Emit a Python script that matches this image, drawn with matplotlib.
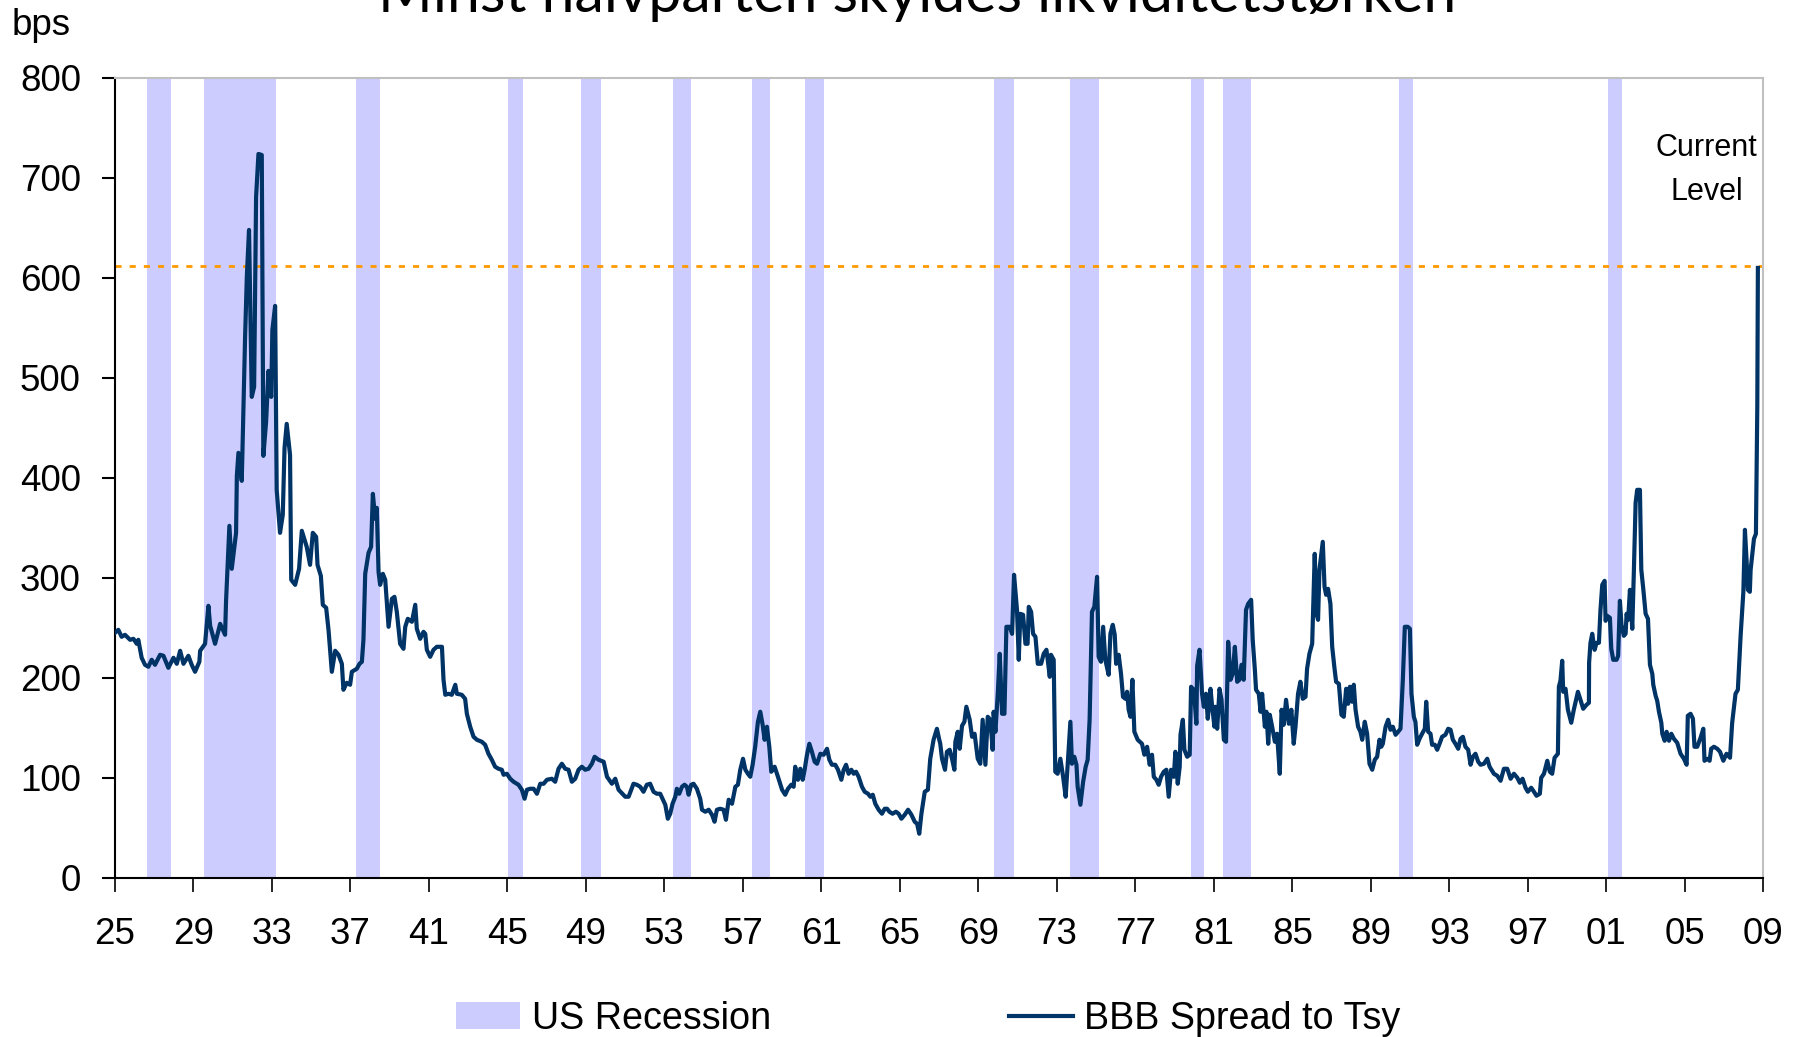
import numpy as np
import matplotlib
matplotlib.use("Agg")
import matplotlib.pyplot as plt
from matplotlib.patches import Patch
from matplotlib.lines import Line2D

# =========================
# DATA
# =========================

title = "Minst halvparten skyldes likviditetstørken"

# BBB spread to Treasuries, bps (decimal years)
dates = [
    # 1925-1938
    1925.01, 1925.18, 1925.35, 1925.52, 1925.78, 1925.95, 1926.12, 1926.20, 1926.37, 1926.54,
    1926.71, 1926.88, 1927.05, 1927.31, 1927.48, 1927.73, 1927.99, 1928.16, 1928.33, 1928.50,
    1928.75, 1928.92, 1929.09, 1929.31, 1929.35, 1929.60, 1929.77, 1929.86, 1930.11, 1930.37,
    1930.62, 1930.67, 1930.84, 1930.96, 1931.18, 1931.22, 1931.30, 1931.47, 1931.64, 1931.73,
    1931.84, 1931.98, 1932.10, 1932.20, 1932.32, 1932.49, 1932.57, 1932.71, 1932.83, 1932.97,
    1933.03, 1933.17, 1933.25, 1933.42, 1933.56, 1933.65, 1933.76, 1933.93, 1933.99, 1934.19,
    1934.39, 1934.53, 1934.78, 1934.95, 1935.09, 1935.26, 1935.33, 1935.50, 1935.60, 1935.77,
    1935.89, 1936.06, 1936.23, 1936.40, 1936.57, 1936.65, 1936.82, 1936.99, 1937.08, 1937.33,
    1937.47, 1937.59, 1937.67, 1937.76, 1937.93, 1938.06, 1938.15, 1938.27, 1938.35, 1938.44,
    1938.52, 1938.66,
    # 1938-1953
    1938.78, 1938.95, 1939.12, 1939.25, 1939.37, 1939.54, 1939.71, 1939.80, 1939.93, 1940.14,
    1940.31, 1940.39, 1940.56, 1940.73, 1940.82, 1940.90, 1941.07, 1941.24, 1941.41, 1941.67,
    1941.75, 1941.84, 1942.00, 1942.17, 1942.35, 1942.43, 1942.68, 1942.85, 1942.94, 1943.11,
    1943.28, 1943.45, 1943.70, 1943.87, 1944.04, 1944.21, 1944.38, 1944.55, 1944.72, 1944.81,
    1944.98, 1945.15, 1945.32, 1945.57, 1945.74, 1945.88, 1946.00, 1946.17, 1946.34, 1946.51,
    1946.68, 1946.85, 1947.02, 1947.27, 1947.44, 1947.61, 1947.78, 1947.95, 1948.12, 1948.29,
    1948.46, 1948.63, 1948.80, 1948.97, 1949.14, 1949.31, 1949.45, 1949.65, 1949.91, 1950.08,
    1950.33, 1950.50, 1950.67, 1951.01, 1951.18, 1951.43, 1951.60, 1951.77, 1951.94, 1952.11,
    1952.28, 1952.45, 1952.62, 1952.79,
    # 1953-1967
    1953.05, 1953.18, 1953.30, 1953.42, 1953.56, 1953.64, 1953.76, 1953.90, 1954.03, 1954.15,
    1954.24, 1954.37, 1954.49, 1954.66, 1954.83, 1954.92, 1955.09, 1955.26, 1955.43, 1955.56,
    1955.68, 1955.85, 1956.02, 1956.14, 1956.28, 1956.45, 1956.62, 1956.75, 1956.87, 1957.01,
    1957.13, 1957.26, 1957.38, 1957.50, 1957.63, 1957.77, 1957.89, 1958.01, 1958.11, 1958.23,
    1958.35, 1958.45, 1958.62, 1958.79, 1959.00, 1959.16, 1959.30, 1959.47, 1959.59, 1959.67,
    1959.81, 1959.93, 1960.05, 1960.15, 1960.27, 1960.39, 1960.52, 1960.66, 1960.78, 1960.95,
    1961.12, 1961.29, 1961.41, 1961.54, 1961.71, 1961.85, 1962.02, 1962.14, 1962.26, 1962.39,
    1962.53, 1962.65, 1962.77, 1962.90, 1963.07, 1963.21, 1963.38, 1963.50, 1963.62, 1963.75,
    1963.92, 1964.09, 1964.23, 1964.35, 1964.47, 1964.63, 1964.80, 1964.94, 1965.08, 1965.25,
    1965.42, 1965.59, 1965.76, 1965.88, 1965.99, 1966.10, 1966.27, 1966.43, 1966.55, 1966.72,
    1966.89, 1967.01,
    # 1967-1981
    1967.06, 1967.15, 1967.30, 1967.40, 1967.54, 1967.66, 1967.78, 1967.83, 1967.95, 1968.05,
    1968.17, 1968.29, 1968.39, 1968.56, 1968.68, 1968.81, 1968.97, 1969.10, 1969.22, 1969.36,
    1969.48, 1969.61, 1969.73, 1969.78, 1969.87, 1969.99, 1970.09, 1970.21, 1970.33, 1970.43,
    1970.60, 1970.72, 1970.82, 1970.97, 1971.06, 1971.14, 1971.28, 1971.40, 1971.51, 1971.57,
    1971.69, 1971.79, 1971.91, 1972.03, 1972.20, 1972.33, 1972.47, 1972.53, 1972.64, 1972.70,
    1972.84, 1972.92, 1973.04, 1973.18, 1973.32, 1973.45, 1973.57, 1973.69, 1973.77, 1973.89,
    1974.00, 1974.06, 1974.20, 1974.34, 1974.47, 1974.57, 1974.67, 1974.79, 1974.91, 1975.05,
    1975.13, 1975.25, 1975.36, 1975.47, 1975.64, 1975.73, 1975.85, 1975.95, 1976.02, 1976.15,
    1976.27, 1976.37, 1976.49, 1976.58, 1976.66, 1976.75, 1976.85, 1976.95, 1977.12, 1977.34,
    1977.46, 1977.60, 1977.73, 1977.85, 1977.94, 1978.07, 1978.19, 1978.31, 1978.45, 1978.58,
    1978.70, 1978.82, 1978.96, 1979.04, 1979.16, 1979.26, 1979.30, 1979.42, 1979.50, 1979.64,
    1979.77, 1979.84, 1979.98, 1980.11, 1980.15, 1980.27, 1980.40, 1980.49, 1980.60, 1980.69,
    1980.83, 1980.91, 1981.03,
    # 1981-1995
    1981.08, 1981.17, 1981.29, 1981.39, 1981.51, 1981.62, 1981.73, 1981.85, 1981.96, 1982.07,
    1982.19, 1982.30, 1982.41, 1982.52, 1982.64, 1982.75, 1982.90, 1982.98, 1983.09, 1983.15,
    1983.29, 1983.38, 1983.46, 1983.60, 1983.68, 1983.77, 1983.85, 1983.97, 1984.11, 1984.22,
    1984.36, 1984.45, 1984.56, 1984.68, 1984.82, 1984.95, 1985.07, 1985.16, 1985.29, 1985.41,
    1985.53, 1985.67, 1985.75, 1985.87, 1986.01, 1986.14, 1986.23, 1986.31, 1986.38, 1986.55,
    1986.64, 1986.72, 1986.82, 1986.94, 1987.03, 1987.15, 1987.23, 1987.37, 1987.50, 1987.62,
    1987.74, 1987.84, 1987.93, 1988.05, 1988.13, 1988.22, 1988.35, 1988.47, 1988.56, 1988.69,
    1988.81, 1988.93, 1989.07, 1989.20, 1989.32, 1989.44, 1989.53, 1989.61, 1989.75, 1989.88,
    1990.00, 1990.12, 1990.26, 1990.39, 1990.51, 1990.63, 1990.73, 1990.88, 1990.99, 1991.07,
    1991.19, 1991.27, 1991.36, 1991.48, 1991.61, 1991.75, 1991.82, 1991.92, 1992.04, 1992.12,
    1992.26, 1992.38, 1992.50, 1992.63, 1992.80, 1992.94, 1993.06, 1993.18, 1993.31, 1993.45,
    1993.57, 1993.69, 1993.82, 1993.96, 1994.08, 1994.20, 1994.33, 1994.47, 1994.59, 1994.76,
    1994.93, 1995.05,
    # 1995-2008
    1995.27, 1995.44, 1995.61, 1995.78, 1995.95, 1996.12, 1996.29, 1996.46, 1996.59, 1996.73,
    1996.88, 1997.00, 1997.17, 1997.31, 1997.44, 1997.61, 1997.68, 1997.82, 1997.99, 1998.12,
    1998.24, 1998.36, 1998.53, 1998.58, 1998.66, 1998.75, 1998.80, 1998.92, 1999.04, 1999.21,
    1999.34, 1999.55, 1999.68, 1999.82, 1999.99, 2000.11, 2000.12, 2000.19, 2000.28, 2000.40,
    2000.50, 2000.62, 2000.70, 2000.79, 2000.91, 2000.96, 2001.04, 2001.18, 2001.25, 2001.35,
    2001.52, 2001.60, 2001.69, 2001.77, 2001.89, 2001.98, 2002.03, 2002.11, 2002.20, 2002.32,
    2002.40, 2002.49, 2002.57, 2002.71, 2002.78, 2002.88, 2003.00, 2003.12, 2003.22, 2003.34,
    2003.39, 2003.51, 2003.59, 2003.68, 2003.80, 2003.85, 2003.97, 2004.07, 2004.19, 2004.31,
    2004.44, 2004.61, 2004.78, 2004.95, 2005.09, 2005.15, 2005.29, 2005.41, 2005.49, 2005.63,
    2005.80, 2005.94, 2006.00, 2006.14, 2006.26, 2006.34, 2006.48, 2006.65, 2006.79, 2006.96,
    2007.12, 2007.30, 2007.41, 2007.58, 2007.70, 2007.84, 2007.98, 2008.06, 2008.15, 2008.21,
    2008.31, 2008.35, 2008.52, 2008.62, 2008.69, 2008.72,
]

spread = [
    # 1925-1938
    245, 248, 241, 243, 238, 239, 234, 238, 220, 213,
    211, 218, 213, 223, 222, 210, 220, 214, 227, 214,
    222, 213, 206, 216, 227, 234, 272, 252, 234, 254,
    243, 277, 352, 309, 345, 402, 425, 397, 541, 602,
    648, 481, 491, 681, 724, 723, 422, 456, 507, 481,
    548, 572, 388, 345, 363, 430, 454, 423, 298, 293,
    309, 347, 331, 313, 345, 341, 313, 302, 273, 270,
    248, 206, 227, 223, 214, 188, 195, 193, 206, 209,
    214, 216, 238, 304, 325, 331, 384, 359, 370, 306,
    293, 304,
    # 1938-1953
    298, 251, 279, 281, 266, 234, 229, 251, 259, 256,
    273, 249, 239, 246, 244, 228, 221, 228, 231, 231,
    198, 183, 184, 183, 193, 184, 183, 179, 164, 151,
    141, 138, 136, 133, 124, 118, 111, 109, 108, 103,
    104, 99, 96, 93, 88, 79, 88, 89, 89, 84,
    94, 94, 98, 99, 96, 109, 114, 109, 108, 96,
    99, 108, 111, 108, 109, 114, 121, 118, 116, 101,
    94, 99, 88, 81, 81, 94, 93, 91, 86, 93,
    94, 86, 84, 84,
    # 1953-1967
    73, 59, 64, 74, 81, 89, 84, 91, 93, 91,
    83, 93, 94, 89, 79, 68, 66, 68, 63, 56,
    68, 69, 68, 58, 78, 74, 91, 93, 108, 119,
    108, 104, 101, 113, 131, 156, 166, 153, 138, 151,
    131, 106, 111, 101, 88, 83, 89, 93, 91, 111,
    98, 109, 98, 108, 123, 134, 126, 116, 114, 124,
    123, 129, 118, 113, 113, 108, 98, 108, 113, 104,
    108, 104, 106, 101, 91, 86, 84, 81, 83, 74,
    68, 64, 69, 69, 66, 64, 66, 64, 59, 63,
    68, 63, 56, 54, 44, 64, 86, 88, 119, 138,
    149, 138,
    # 1967-1981
    134, 119, 108, 126, 128, 119, 108, 136, 146, 129,
    152, 156, 171, 158, 141, 144, 119, 114, 158, 113,
    161, 158, 128, 166, 146, 184, 224, 164, 164, 251,
    251, 244, 303, 268, 218, 264, 263, 234, 234, 271,
    266, 244, 241, 214, 214, 224, 228, 219, 201, 223,
    218, 106, 104, 119, 101, 81, 118, 156, 114, 121,
    113, 91, 73, 96, 111, 118, 158, 266, 271, 301,
    221, 216, 251, 218, 203, 244, 253, 243, 214, 223,
    204, 181, 179, 186, 168, 161, 198, 146, 138, 134,
    123, 131, 113, 123, 101, 98, 93, 101, 106, 108,
    81, 108, 101, 126, 94, 111, 143, 158, 128, 121,
    123, 191, 188, 154, 212, 228, 184, 171, 184, 159,
    189, 172, 151,
    # 1981-1995
    171, 149, 189, 178, 138, 136, 236, 198, 204, 231,
    196, 198, 213, 198, 268, 274, 278, 238, 208, 188,
    184, 166, 184, 151, 166, 134, 163, 151, 136, 144,
    104, 168, 153, 178, 154, 168, 134, 151, 184, 196,
    179, 181, 209, 224, 234, 324, 264, 258, 308, 336,
    291, 283, 289, 274, 231, 209, 196, 194, 163, 161,
    189, 174, 191, 176, 193, 168, 151, 146, 138, 156,
    144, 114, 108, 118, 121, 138, 131, 134, 151, 158,
    148, 151, 143, 146, 149, 198, 251, 251, 249, 184,
    161, 156, 133, 139, 144, 149, 176, 146, 144, 133,
    133, 128, 134, 141, 143, 149, 148, 138, 134, 129,
    139, 141, 131, 128, 113, 121, 124, 116, 113, 114,
    119, 111,
    # 1995-2008
    104, 102, 97, 109, 109, 99, 104, 100, 95, 99,
    90, 86, 90, 86, 82, 84, 100, 104, 117, 106,
    104, 120, 124, 191, 197, 217, 186, 189, 168, 155,
    168, 186, 178, 169, 173, 175, 215, 235, 244, 228,
    235, 235, 268, 293, 297, 257, 262, 260, 229, 218,
    218, 222, 277, 253, 242, 244, 264, 258, 288, 249,
    306, 375, 388, 388, 308, 289, 264, 259, 213, 204,
    193, 182, 177, 166, 155, 144, 137, 146, 137, 144,
    139, 135, 124, 119, 113, 162, 164, 159, 131, 131,
    140, 149, 117, 119, 117, 129, 131, 129, 126, 117,
    124, 120, 155, 184, 188, 242, 286, 348, 315, 288,
    286, 308, 339, 344, 471, 610,
]

# US recessions (start, end) in decimal years
rec_start = [1926.63, 1929.57, 1937.30, 1945.06, 1948.77, 1953.42, 1957.48,
             1960.18, 1969.82, 1973.69, 1979.86, 1981.45, 1990.41, 2001.08]
rec_end = [1927.87, 1933.20, 1938.52, 1945.79, 1949.79, 1954.37, 1958.40,
           1961.15, 1970.84, 1975.17, 1980.52, 1982.90, 1991.17, 2001.82]

current_level = 612
tick_years = list(range(1925, 2010, 4))
tick_labels = [f"{y % 100:02d}" for y in tick_years]

# =========================
# STYLE
# =========================

line_color = "#003366"
rec_color = "#CCCCFF"
lvl_color = "#FF9900"
fs = 26.5

plt.rcParams["font.family"] = ["Liberation Sans", "DejaVu Sans"]

# =========================
# PLOT
# =========================

fig = plt.figure(figsize=(17.99, 10.37), dpi=100)
ax = fig.add_axes([0.0638, 0.1536, 0.9164, 0.7712])

for s, e in zip(rec_start, rec_end):
    ax.axvspan(s, e, color=rec_color, lw=0, zorder=1)

ax.axhline(current_level, color=lvl_color, lw=2, dashes=(2.2, 2.9), zorder=2)
ax.plot(dates, spread, color=line_color, lw=3.0, solid_joinstyle="round", zorder=3)

ax.set_xlim(1925, 2009)
ax.set_ylim(0, 800)
ax.set_yticks(range(0, 801, 100))
ax.set_xticks(tick_years)
ax.set_xticklabels(tick_labels)

ax.tick_params(axis="y", direction="out", length=9.4, width=1.5, pad=15, labelsize=fs)
ax.tick_params(axis="x", direction="out", length=10, width=1.2, pad=18, labelsize=fs)

for side in ("left", "bottom"):
    ax.spines[side].set_color("black")
    ax.spines[side].set_linewidth(1.5)
for side in ("top", "right"):
    ax.spines[side].set_color("#C0C0C0")
    ax.spines[side].set_linewidth(1.5)

ax.text(2006.1, 708, "Current\nLevel", ha="center", va="center",
        fontsize=22, linespacing=1.6, zorder=4)

fig.text(12 / 1799, 1 - 35 / 1037, "bps", fontsize=fs, va="baseline", ha="left")

fig.text(917 / 1799, 1 - 12 / 1037, title, fontsize=42.5, ha="center",
         va="baseline", family=["Lato", "DejaVu Sans"])

handles = [Patch(facecolor=rec_color, edgecolor="none"),
           Line2D([0], [0], color=line_color, lw=3)]
fig.legend(handles, ["US Recession", "BBB Spread to Tsy"], loc="center",
           bbox_to_anchor=(0.516, 0.0175), ncol=2, frameon=False, fontsize=27.2,
           handlelength=1.7, handleheight=0.7, handletextpad=0.3,
           columnspacing=6.3, borderpad=0)

fig.savefig("out.png", dpi=100)
plt.close(fig)
